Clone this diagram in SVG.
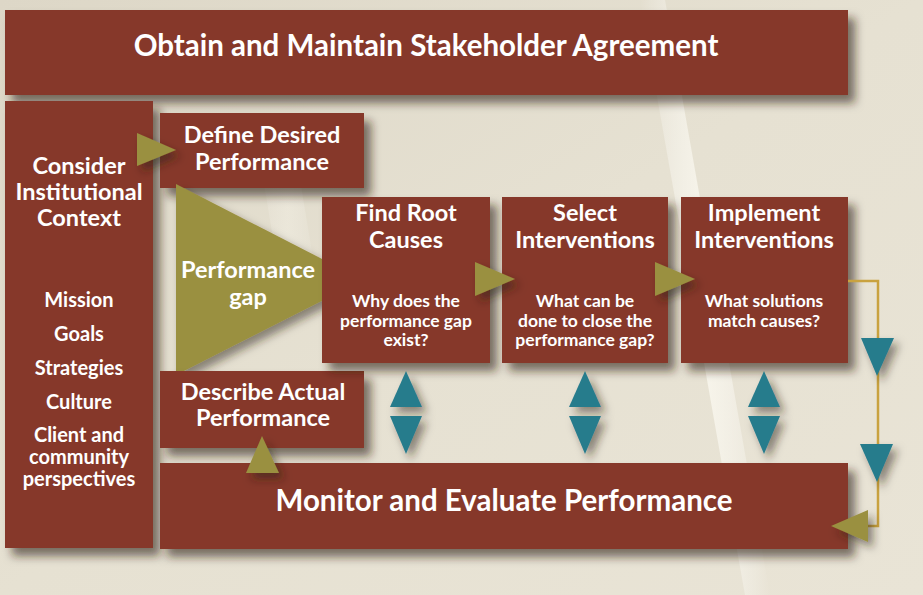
<svg xmlns="http://www.w3.org/2000/svg" width="923" height="595" viewBox="0 0 923 595">
<defs>
<linearGradient id="bg" x1="0" y1="0" x2="1" y2="1">
<stop offset="0" stop-color="#ddd7c7"/>
<stop offset="0.5" stop-color="#e6e1d2"/>
<stop offset="1" stop-color="#e9e4d6"/>
</linearGradient>
<linearGradient id="streak" x1="0" y1="0" x2="1" y2="0">
<stop offset="0" stop-color="#ffffff" stop-opacity="0"/>
<stop offset="0.5" stop-color="#fbf9f0" stop-opacity="0.8"/>
<stop offset="1" stop-color="#ffffff" stop-opacity="0"/>
</linearGradient>
<filter id="sh" x="-20%" y="-20%" width="150%" height="160%">
<feDropShadow dx="7" dy="8" stdDeviation="5" flood-color="#2a1e14" flood-opacity="0.6"/>
</filter>
<filter id="shs" x="-30%" y="-30%" width="180%" height="180%">
<feDropShadow dx="5" dy="6" stdDeviation="4" flood-color="#2a1e14" flood-opacity="0.5"/>
</filter>
</defs>
<style>
.box{fill:#86372a;filter:url(#sh)}
.t{font-family:Lato,"Open Sans","Liberation Sans",sans-serif;font-weight:bold;fill:#ffffff;text-anchor:middle}
.big{font-size:29.5px}
.h{font-size:23.5px}
.s{font-size:20px}
.q{font-size:17.5px}
.olive{fill:#9a903f;filter:url(#shs)}
.teal{fill:#287b8c;filter:url(#shs)}
.line{fill:none;stroke:#c9a23f;stroke-width:2.5}
</style>
<rect width="923" height="595" fill="url(#bg)"/>
<polygon points="640,0 665,0 770,595 745,595" fill="url(#streak)"/>
<polygon points="255,130 290,120 320,300 285,310" fill="url(#streak)" opacity="0.4"/>

<g id="stakeholder">
<rect class="box" x="5" y="10" width="843" height="85"/>
<text class="t big" x="426" y="56">Obtain and Maintain Stakeholder Agreement</text>
</g>

<g id="context">
<rect class="box" x="5" y="101" width="148" height="447"/>
<text class="t h" x="79" y="174">Consider</text>
<text class="t h" x="79" y="200">Institutional</text>
<text class="t h" x="79" y="226">Context</text>
<text class="t s" x="79" y="307">Mission</text>
<text class="t s" x="79" y="341">Goals</text>
<text class="t s" x="79" y="375">Strategies</text>
<text class="t s" x="79" y="409">Culture</text>
<text class="t s" x="79" y="442">Client and</text>
<text class="t s" x="79" y="464">community</text>
<text class="t s" x="79" y="486">perspectives</text>
</g>

<g id="define">
<rect class="box" x="160" y="113" width="204" height="75"/>
<text class="t h" x="262" y="143">Define Desired</text>
<text class="t h" x="262" y="170">Performance</text>
</g>

<g id="gap">
<polygon class="olive" points="176,184 176,375 363,280"/>
<text class="t h" x="248" y="278">Performance</text>
<text class="t h" x="248" y="305">gap</text>
</g>

<g id="describe">
<rect class="box" x="160" y="371" width="204" height="77"/>
<text class="t h" x="263" y="400">Describe Actual</text>
<text class="t h" x="263" y="426">Performance</text>
</g>

<g id="findroot">
<rect class="box" x="322" y="197" width="168" height="166"/>
<text class="t h" x="406" y="221">Find Root</text>
<text class="t h" x="406" y="248">Causes</text>
<text class="t q" x="406" y="307">Why does the</text>
<text class="t q" x="406" y="327">performance gap</text>
<text class="t q" x="406" y="346">exist?</text>
</g>

<g id="select">
<rect class="box" x="502" y="197" width="166" height="166"/>
<text class="t h" x="585" y="221">Select</text>
<text class="t h" x="585" y="248">Interventions</text>
<text class="t q" x="585" y="307">What can be</text>
<text class="t q" x="585" y="327">done to close the</text>
<text class="t q" x="585" y="346">performance gap?</text>
</g>

<g id="implement">
<rect class="box" x="681" y="197" width="167" height="166"/>
<text class="t h" x="764" y="221">Implement</text>
<text class="t h" x="764" y="248">Interventions</text>
<text class="t q" x="764" y="307">What solutions</text>
<text class="t q" x="764" y="327">match causes?</text>
</g>

<g id="monitor">
<rect class="box" x="160" y="463" width="688" height="86"/>
<text class="t big" x="504" y="511">Monitor and Evaluate Performance</text>
</g>

<g id="connectors">
<polyline class="line" points="848,281 878,281 878,526 862,526"/>
<polygon class="olive" points="137,133 137,166 176,150"/>
<polygon class="olive" points="475,262 475,296 515,279"/>
<polygon class="olive" points="655,262 655,296 695,279"/>
<polygon class="olive" points="262,436 246,473 279,473"/>
<polygon class="olive" points="868,510 868,542 831,526"/>
<polygon class="teal" points="406,371 390,407 422,407"/>
<polygon class="teal" points="390,416 422,416 406,454"/>
<polygon class="teal" points="585,371 569,407 601,407"/>
<polygon class="teal" points="569,416 601,416 585,454"/>
<polygon class="teal" points="764,371 748,407 780,407"/>
<polygon class="teal" points="748,416 780,416 764,454"/>
<polygon class="teal" points="861,338 894,338 877,376"/>
<polygon class="teal" points="860,444 893,444 877,482"/>
</g>
</svg>
